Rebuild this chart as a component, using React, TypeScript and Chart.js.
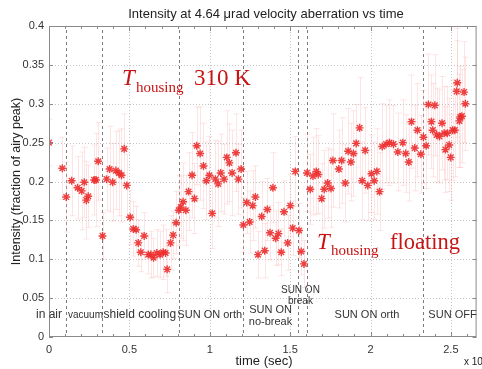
import React, { useEffect, useRef } from "react";
import { Chart, registerables } from "chart.js";

Chart.register(...registerables);

// ---- data ----
const times = [
  0.0, 0.083, 0.107, 0.141, 0.178, 0.203, 0.219, 0.232, 0.244, 0.281, 0.292, 0.306, 0.333, 0.358, 0.377, 0.396,
  0.416, 0.435, 0.451, 0.468, 0.484, 0.505, 0.524, 0.542, 0.555, 0.571, 0.592, 0.617, 0.634, 0.65, 0.671, 0.691,
  0.71, 0.725, 0.735, 0.756, 0.772, 0.791, 0.807, 0.82, 0.834, 0.851, 0.868, 0.89, 0.905, 0.919, 0.94, 0.961,
  0.979, 0.998, 1.015, 1.035, 1.052, 1.068, 1.089, 1.106, 1.122, 1.139, 1.163, 1.178, 1.195, 1.209, 1.23, 1.248,
  1.267, 1.284, 1.3, 1.323, 1.342, 1.358, 1.375, 1.393, 1.41, 1.427, 1.445, 1.462, 1.485, 1.501, 1.516, 1.532,
  1.555, 1.569, 1.586, 1.605, 1.625, 1.642, 1.663, 1.675, 1.696, 1.712, 1.733, 1.754, 1.766, 1.803, 1.82, 1.843,
  1.861, 1.878, 1.894, 1.911, 1.932, 1.948, 1.967, 1.983, 2.006, 2.023, 2.039, 2.056, 2.073, 2.097, 2.118, 2.143,
  2.17, 2.201, 2.219, 2.238, 2.255, 2.275, 2.292, 2.313, 2.329, 2.346, 2.36, 2.379, 2.387, 2.4, 2.412, 2.429,
  2.445, 2.458, 2.466, 2.478, 2.489, 2.499, 2.511, 2.524, 2.536, 2.54, 2.553, 2.559, 2.568, 2.582, 2.59,
];
const intensity = [
  0.25, 0.217, 0.18, 0.201, 0.192, 0.188, 0.199, 0.176, 0.181, 0.202, 0.202, 0.226, 0.13, 0.203, 0.216, 0.199,
  0.214, 0.211, 0.208, 0.242, 0.195, 0.154, 0.139, 0.138, 0.121, 0.109, 0.13, 0.106, 0.106, 0.102, 0.108, 0.106,
  0.109, 0.108, 0.087, 0.121, 0.131, 0.147, 0.163, 0.167, 0.174, 0.163, 0.187, 0.208, 0.178, 0.246, 0.236, 0.22,
  0.201, 0.208, 0.159, 0.203, 0.197, 0.211, 0.203, 0.231, 0.224, 0.211, 0.237, 0.203, 0.216, 0.144, 0.173, 0.148,
  0.169, 0.18, 0.106, 0.155, 0.111, 0.164, 0.134, 0.192, 0.127, 0.133, 0.109, 0.161, 0.121, 0.169, 0.14, 0.213,
  0.137, 0.11, 0.094, 0.211, 0.19, 0.207, 0.213, 0.209, 0.178, 0.19, 0.198, 0.191, 0.227, 0.216, 0.227, 0.198,
  0.239, 0.225, 0.236, 0.249, 0.269, 0.201, 0.24, 0.195, 0.21, 0.201, 0.213, 0.187, 0.245, 0.248, 0.25, 0.248,
  0.238, 0.25, 0.236, 0.225, 0.277, 0.243, 0.266, 0.235, 0.257, 0.246, 0.299, 0.277, 0.266, 0.298, 0.26, 0.258,
  0.275, 0.262, 0.241, 0.262, 0.247, 0.231, 0.266, 0.266, 0.316, 0.327, 0.278, 0.283, 0.284, 0.315, 0.3,
];
const errors = [
  0.03, 0.04, 0.045, 0.045, 0.04, 0.05, 0.045, 0.05, 0.04, 0.045, 0.06, 0.05, 0.03, 0.04, 0.055, 0.05,
  0.05, 0.055, 0.06, 0.045, 0.04, 0.035, 0.035, 0.03, 0.03, 0.025, 0.03, 0.025, 0.03, 0.025, 0.03, 0.03,
  0.035, 0.03, 0.03, 0.035, 0.03, 0.04, 0.045, 0.04, 0.05, 0.045, 0.05, 0.055, 0.045, 0.05, 0.06, 0.055,
  0.05, 0.05, 0.045, 0.05, 0.055, 0.05, 0.045, 0.06, 0.05, 0.055, 0.05, 0.045, 0.05, 0.035, 0.04, 0.04,
  0.045, 0.04, 0.03, 0.045, 0.035, 0.04, 0.035, 0.045, 0.035, 0.04, 0.03, 0.04, 0.035, 0.04, 0.035, 0.045,
  0.035, 0.03, 0.03, 0.05, 0.045, 0.05, 0.055, 0.05, 0.045, 0.05, 0.045, 0.05, 0.06, 0.05, 0.055, 0.05,
  0.055, 0.05, 0.055, 0.05, 0.065, 0.05, 0.055, 0.045, 0.05, 0.05, 0.055, 0.05, 0.055, 0.05, 0.055, 0.05,
  0.05, 0.055, 0.05, 0.05, 0.06, 0.055, 0.06, 0.05, 0.06, 0.055, 0.065, 0.06, 0.06, 0.065, 0.06, 0.06,
  0.06, 0.06, 0.055, 0.06, 0.06, 0.055, 0.065, 0.06, 0.065, 0.07, 0.06, 0.065, 0.06, 0.065, 0.06,
];
const eventTimes = [0.105, 0.33, 0.81, 1.205, 1.548, 1.607, 2.327];
const phaseLabels = ["in air", "vacuum", "shield cooling", "SUN ON orth", "SUN ON|no-break", "SUN ON|break", "SUN ON orth", "SUN OFF"];
const phaseTimes = [0.0, 0.227, 0.565, 1.0, 1.378, 1.564, 1.978, 2.51];
const xTicks = [0, 0.5, 1, 1.5, 2, 2.5];
const yTicks = [0, 0.05, 0.1, 0.15, 0.2, 0.25, 0.3, 0.35, 0.4];

const SANS = '"Liberation Sans", Arial, sans-serif';
const SERIF = '"Liberation Serif", "Times New Roman", serif';

const overlay = {
  id: "overlay",
  beforeDatasetsDraw(chart: any) {
    const { ctx, chartArea: a, scales } = chart;
    const x = scales.x, y = scales.y;
    ctx.save();
    ctx.beginPath();
    ctx.rect(a.left, a.top, a.right - a.left, a.bottom - a.top);
    ctx.clip();
    // dotted grid
    ctx.strokeStyle = "#c4c4c4";
    ctx.lineWidth = 1;
    ctx.setLineDash([1, 2]);
    yTicks.forEach((v) => {
      if (v <= 0 || v >= 0.4) return;
      const py = Math.round(y.getPixelForValue(v)) + 0.5;
      ctx.beginPath(); ctx.moveTo(a.left, py); ctx.lineTo(a.right, py); ctx.stroke();
    });
    xTicks.forEach((t) => {
      if (t <= 0) return;
      const px = Math.round(x.getPixelForValue(t)) + 0.5;
      ctx.beginPath(); ctx.moveTo(px, a.top); ctx.lineTo(px, a.bottom); ctx.stroke();
    });
    // event dashed lines
    ctx.strokeStyle = "#7a7a7a";
    ctx.setLineDash([3, 3]);
    eventTimes.forEach((t) => {
      const px = Math.round(x.getPixelForValue(t)) + 0.5;
      ctx.beginPath(); ctx.moveTo(px, a.top + 4); ctx.lineTo(px, a.bottom); ctx.stroke();
    });
    // error bars
    ctx.setLineDash([]);
    ctx.strokeStyle = "rgba(248,175,175,0.32)";
    ctx.lineWidth = 1;
    times.forEach((t, i) => {
      const px = Math.round(x.getPixelForValue(t)) + 0.5;
      const yt = y.getPixelForValue(intensity[i] + errors[i]);
      const yb = y.getPixelForValue(intensity[i] - errors[i]);
      ctx.beginPath();
      ctx.moveTo(px, yt); ctx.lineTo(px, yb);
      ctx.moveTo(px - 3, yt); ctx.lineTo(px + 3, yt);
      ctx.moveTo(px - 3, yb); ctx.lineTo(px + 3, yb);
      ctx.stroke();
    });
    ctx.restore();
  },
  afterDraw(chart: any) {
    const { ctx, chartArea: a, scales } = chart;
    const x = scales.x, y = scales.y;
    ctx.save();
    // frame
    ctx.strokeStyle = "#8a8a8a";
    ctx.lineWidth = 1;
    ctx.strokeRect(a.left + 0.5, a.top + 0.5, a.right - a.left - 1, a.bottom - a.top - 1);
    for (let k = 0; k <= 26; k++) {
      const t = k / 10;
      const px = Math.round(x.getPixelForValue(t)) + 0.5;
      const len = k % 5 === 0 ? 5 : 3;
      ctx.beginPath();
      ctx.moveTo(px, a.bottom); ctx.lineTo(px, a.bottom - len);
      ctx.moveTo(px, a.top); ctx.lineTo(px, a.top + len);
      ctx.stroke();
    }
    yTicks.forEach((v) => {
      const py = Math.round(y.getPixelForValue(v)) + 0.5;
      ctx.beginPath();
      ctx.moveTo(a.left, py); ctx.lineTo(a.left + 4, py);
      ctx.moveTo(a.right, py); ctx.lineTo(a.right - 4, py);
      ctx.stroke();
    });
    // title
    ctx.fillStyle = "#222";
    ctx.textAlign = "center";
    ctx.textBaseline = "middle";
    ctx.font = `13px ${SANS}`;
    ctx.fillText("Intensity at 4.64 \u03bcrad velocity aberration vs time", 266, 14);
    // x title
    ctx.font = `13px ${SANS}`;
    ctx.fillText("time (sec)", 264, 361);
    ctx.font = `10px ${SANS}`;
    ctx.textAlign = "left";
    ctx.fillText("x 10", 464, 362);
    ctx.font = `7px ${SANS}`;
    ctx.fillText("4", 481, 358);
    // y title
    ctx.save();
    ctx.translate(17, (a.top + a.bottom) / 2);
    ctx.rotate(-Math.PI / 2);
    ctx.textAlign = "center";
    ctx.font = `12.5px ${SANS}`;
    ctx.fillText("Intensity (fraction of airy peak)", 0, 0);
    ctx.restore();
    // phase labels
    ctx.fillStyle = "#333";
    ctx.textAlign = "center";
    ctx.textBaseline = "middle";
    phaseLabels.forEach((lab, i) => {
      const px = x.getPixelForValue(phaseTimes[i]);
      const lines = lab.split("|");
      if (lab === "vacuum") ctx.font = `10px ${SANS}`;
      else if (lab === "in air" || lab === "shield cooling") ctx.font = `12px ${SANS}`;
      else ctx.font = `11px ${SANS}`;
      if (lines.length === 1) {
        ctx.fillText(lines[0], px, a.bottom - 22);
      } else if (lines[1] === "no-break") {
        ctx.fillText(lines[0], px, a.bottom - 27);
        ctx.fillText(lines[1], px, a.bottom - 15);
      } else {
        ctx.font = `10px ${SANS}`;
        ctx.fillText(lines[0], px, a.bottom - 47);
        ctx.fillText(lines[1], px, a.bottom - 36);
      }
    });
    // annotations
    ctx.fillStyle = "#c81414";
    ctx.textAlign = "left";
    ctx.textBaseline = "alphabetic";
    ctx.font = `italic 23px ${SERIF}`;
    ctx.fillText("T", 122, 85);
    ctx.font = `15px ${SERIF}`;
    ctx.fillText("housing", 136, 92);
    ctx.font = `23px ${SERIF}`;
    ctx.fillText("310 K", 194, 85);
    ctx.font = `italic 23px ${SERIF}`;
    ctx.fillText("T", 317, 249);
    ctx.font = `15px ${SERIF}`;
    ctx.fillText("housing", 331, 255);
    ctx.font = `22.5px ${SERIF}`;
    ctx.fillText("floating", 390, 249);
    ctx.restore();
  },
};

export default function App() {
  const ref = useRef<HTMLCanvasElement>(null);
  useEffect(() => {
    document.body.style.margin = "0";
    const chart = new Chart(ref.current as HTMLCanvasElement, {
      type: "scatter",
      data: {
        datasets: [
          {
            data: times.map((t, i) => ({ x: t, y: intensity[i] })),
            pointStyle: "star",
            pointRadius: 4,
            borderColor: "rgba(236,45,45,0.9)",
            backgroundColor: "rgba(236,45,45,0.9)",
            borderWidth: 1.4,
          },
        ],
      },
      options: {
        responsive: false,
        animation: false,
        devicePixelRatio: 1,
        layout: { padding: { left: 0, right: 4, top: 26, bottom: 0 } },
        plugins: { legend: { display: false }, tooltip: { enabled: false } },
        scales: {
          x: {
            type: "linear",
            min: 0,
            max: 2.66,
            afterFit: (s: any) => { s.height = 32; },
            afterBuildTicks: (s: any) => { s.ticks = xTicks.map((v) => ({ value: v })); },
            grid: { display: false, drawTicks: false },
            border: { display: false },
            ticks: {
              padding: 6,
              color: "#333",
              font: { family: SANS, size: 11 },
              callback: (v: any) => String(v),
            },
          },
          y: {
            type: "linear",
            min: 0,
            max: 0.4,
            afterFit: (s: any) => { s.width = 49; },
            afterBuildTicks: (s: any) => { s.ticks = yTicks.map((v) => ({ value: v })); },
            grid: { display: false, drawTicks: false },
            border: { display: false },
            ticks: {
              padding: 5,
              color: "#333",
              font: { family: SANS, size: 11 },
              callback: (v: any) => String(v),
            },
          },
        },
      },
      plugins: [overlay],
    });
    return () => chart.destroy();
  }, []);
  return <canvas ref={ref} width={482} height={369} style={{ display: "block" }} />;
}
